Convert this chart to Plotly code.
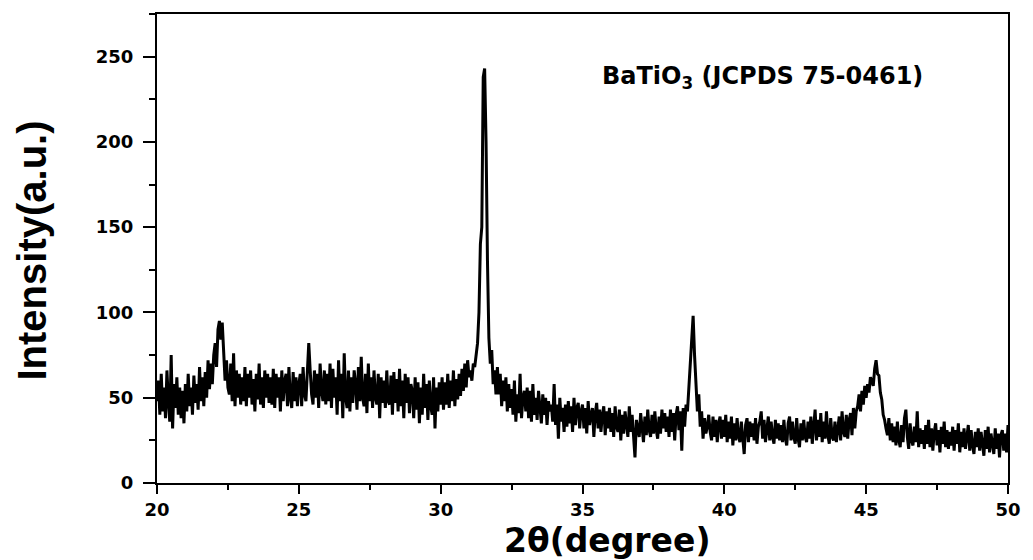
import plotly.graph_objects as go

# XRD intensity, 2θ = 20.00 ... 50.00 in 0.05° steps
row20 = [48, 60, 40, 64, 42, 56, 38, 66, 48, 36, 75, 32, 58, 44, 62, 40, 56, 38, 54, 35]
row21 = [58, 42, 64, 45, 56, 40, 63, 47, 58, 43, 68, 48, 62, 45, 65, 50, 72, 55, 70, 58]
row22 = [75, 82, 68, 90, 95, 84, 94, 76, 60, 72, 56, 52, 70, 48, 76, 45, 66, 50, 64, 46]
row23 = [62, 48, 68, 45, 64, 50, 66, 46, 61, 42, 64, 49, 70, 46, 62, 44, 66, 50, 64, 47]
row24 = [62, 46, 67, 44, 64, 50, 62, 42, 66, 48, 60, 64, 45, 68, 50, 44, 65, 48, 62, 45]
row25 = [58, 64, 45, 68, 52, 48, 70, 82, 66, 52, 46, 66, 50, 64, 44, 70, 54, 48, 66, 46]
row26 = [64, 48, 70, 44, 67, 50, 62, 40, 72, 48, 64, 38, 76, 50, 44, 66, 42, 62, 47, 66]
row27 = [58, 43, 68, 48, 74, 50, 45, 64, 41, 70, 48, 62, 44, 66, 50, 46, 64, 38, 62, 47]
row28 = [60, 44, 66, 48, 46, 63, 40, 65, 47, 61, 42, 67, 45, 60, 38, 64, 47, 62, 41, 58]
row29 = [54, 38, 62, 43, 59, 35, 56, 40, 64, 44, 58, 37, 60, 45, 40, 62, 32, 56, 42, 59]
row30 = [46, 62, 43, 59, 46, 64, 44, 60, 48, 66, 45, 61, 49, 64, 51, 67, 54, 70, 56, 72]
row31 = [62, 66, 60, 70, 68, 75, 82, 100, 140, 150, 238, 243, 200, 130, 85, 70, 78, 58, 66, 52]
row32 = [68, 52, 64, 45, 60, 48, 62, 42, 58, 44, 55, 40, 60, 36, 52, 41, 64, 38, 50, 54]
row33 = [42, 56, 38, 54, 36, 58, 40, 50, 37, 54, 44, 35, 52, 40, 50, 34, 48, 42, 46, 36]
row34 = [58, 34, 46, 26, 50, 36, 44, 30, 46, 33, 48, 35, 45, 30, 50, 34, 44, 47, 32, 42]
row35 = [46, 32, 44, 29, 48, 34, 40, 44, 27, 41, 47, 32, 43, 30, 40, 45, 28, 42, 32, 44]
row36 = [30, 41, 27, 45, 33, 30, 43, 25, 40, 29, 42, 32, 27, 45, 30, 40, 28, 15, 37, 33]
row37 = [27, 41, 30, 24, 39, 28, 43, 31, 27, 40, 29, 42, 31, 26, 39, 29, 43, 32, 41, 30]
row38 = [39, 27, 43, 30, 41, 25, 40, 45, 31, 42, 19, 44, 33, 46, 42, 55, 68, 85, 98, 75]
row39 = [55, 42, 52, 33, 42, 26, 38, 29, 33, 40, 30, 25, 39, 27, 37, 24, 35, 39, 26, 37]
row40 = [27, 40, 24, 36, 26, 39, 22, 35, 25, 38, 27, 24, 36, 26, 17, 34, 38, 24, 36, 27]
row41 = [35, 25, 38, 23, 33, 36, 42, 26, 37, 24, 34, 39, 25, 36, 27, 23, 37, 26, 35, 25]
row42 = [34, 24, 37, 26, 22, 35, 39, 25, 36, 27, 23, 38, 26, 21, 35, 25, 37, 27, 24, 36]
row43 = [26, 39, 23, 35, 43, 25, 37, 27, 41, 24, 36, 26, 42, 28, 23, 38, 27, 25, 36, 24]
row44 = [34, 39, 25, 42, 30, 27, 40, 26, 37, 41, 28, 44, 32, 42, 45, 52, 42, 54, 46, 57]
row45 = [50, 58, 53, 62, 60, 57, 67, 72, 64, 63, 53, 49, 40, 37, 32, 28, 38, 25, 35, 24]
row46 = [33, 22, 36, 25, 21, 34, 24, 38, 43, 27, 20, 35, 25, 22, 33, 24, 42, 21, 32, 23]
row47 = [31, 20, 34, 23, 37, 21, 32, 19, 30, 35, 22, 31, 18, 33, 23, 36, 21, 31, 20, 30]
row48 = [22, 33, 19, 31, 23, 35, 18, 30, 21, 32, 20, 29, 34, 19, 31, 22, 17, 30, 21, 32]
row49 = [19, 30, 22, 16, 31, 20, 33, 18, 29, 21, 17, 32, 20, 29, 15, 28, 31, 19, 29, 18]
row50 = [34]

intensity = (row20 + row21 + row22 + row23 + row24 + row25 + row26 + row27 + row28 + row29
             + row30 + row31 + row32 + row33 + row34 + row35 + row36 + row37 + row38 + row39
             + row40 + row41 + row42 + row43 + row44 + row45 + row46 + row47 + row48 + row49
             + row50)
start_angle = 20.0
step_angle = 0.05
two_theta = [round(start_angle + step_angle * i, 2) for i in range(len(intensity))]

x_ticks = [20, 25, 30, 35, 40, 45, 50]
y_ticks = [0, 50, 100, 150, 200, 250]

fig = go.Figure()
fig.add_trace(go.Scatter(x=two_theta, y=intensity, mode="lines",
                         line=dict(color="black", width=3), showlegend=False,
                         hoverinfo="skip"))

tickfont = dict(family="DejaVu Sans", size=18, color="black")

# plot area in pixels
L, R, T, B = 157, 18, 13, 77
pw, ph = 1033 - L - R, 560 - T - B

fig.update_layout(
    width=1033, height=560,
    margin=dict(l=L, r=R, t=T, b=B),
    paper_bgcolor="white", plot_bgcolor="white",
    xaxis=dict(range=[20, 50], tickvals=x_ticks, ticktext=[f"<b>{v}</b>" for v in x_ticks],
               ticks="outside", ticklen=9, tickwidth=2, tickcolor="black",
               minor=dict(dtick=2.5, ticks="outside", ticklen=5, tickwidth=2, tickcolor="black"),
               showline=True, linewidth=2, linecolor="black", mirror=True,
               showgrid=False, zeroline=False, tickfont=tickfont),
    yaxis=dict(range=[0, 275], tickvals=y_ticks, ticktext=[f"<b>{v}</b>" for v in y_ticks],
               ticks="outside", ticklen=12, tickwidth=2, tickcolor="black",
               minor=dict(dtick=25, ticks="outside", ticklen=6, tickwidth=2, tickcolor="black"),
               showline=True, linewidth=2, linecolor="black", mirror=True,
               showgrid=False, zeroline=False, tickfont=tickfont, ticklabelstandoff=6),
    annotations=[
        dict(text="<b>BaTiO<sub>3</sub> (JCPDS 75-0461)</b>", x=41.33, y=238,
             xref="x", yref="y", showarrow=False, xanchor="center", yanchor="middle",
             font=dict(family="DejaVu Sans", size=24, color="black")),
        dict(text="<b>2θ(degree)</b>", x=(611 - L) / pw, y=(483 - 541) / ph,
             xref="paper", yref="paper", xanchor="center", yanchor="middle",
             showarrow=False, font=dict(family="DejaVu Sans", size=33, color="black")),
        dict(text="<b>Intensity(a.u.)</b>", textangle=-90, x=(31 - L) / pw, y=(483 - 250) / ph,
             xref="paper", yref="paper", xanchor="center", yanchor="middle",
             showarrow=False, font=dict(family="Liberation Sans", size=40, color="black")),
    ],
)

fig.write_html("out.html")
